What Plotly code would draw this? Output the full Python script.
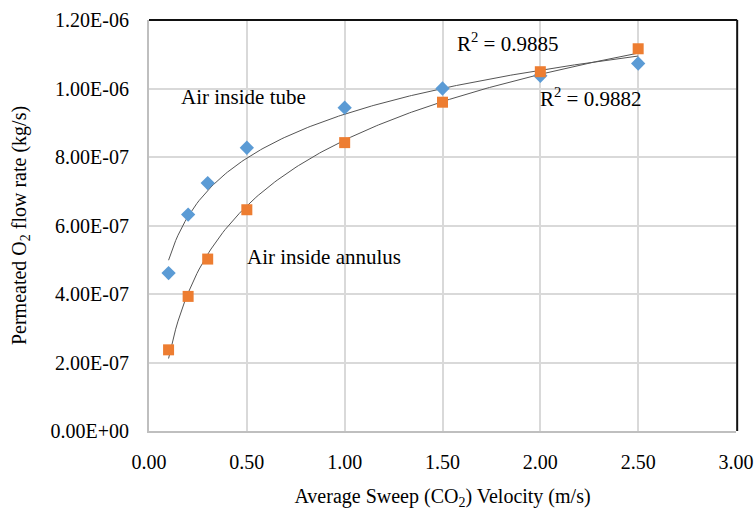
import numpy as np
import plotly.graph_objects as go

velocity = [0.1, 0.2, 0.3, 0.5, 1.0, 1.5, 2.0, 2.5]
tube_flow = [4.61e-7, 6.32e-7, 7.24e-7, 8.27e-7, 9.44e-7, 1.00e-6, 1.037e-6, 1.073e-6]
annulus_flow = [2.37e-7, 3.93e-7, 5.02e-7, 6.46e-7, 8.42e-7, 9.60e-7, 1.049e-6, 1.116e-6]
y_tick_vals = [0, 2e-7, 4e-7, 6e-7, 8e-7, 1.0e-6, 1.2e-6]
y_tick_text = ["0.00E+00", "2.00E-07", "4.00E-07", "6.00E-07", "8.00E-07", "1.00E-06", "1.20E-06"]
x_tick_vals = [0, 0.5, 1.0, 1.5, 2.0, 2.5, 3.0]

FONT = "Liberation Serif, Times New Roman, serif"

def log_fit(x, y):
    a, b = np.polyfit(np.log(x), y, 1)
    xs = np.linspace(min(x), max(x), 200)
    return xs, a * np.log(xs) + b

fig = go.Figure()
for ys in (tube_flow, annulus_flow):
    xs, yf = log_fit(np.array(velocity), np.array(ys))
    fig.add_trace(go.Scatter(x=xs, y=yf, mode="lines",
                             line=dict(color="#555555", width=1), hoverinfo="skip",
                             showlegend=False))

fig.add_trace(go.Scatter(x=velocity, y=tube_flow, mode="markers", name="Air inside tube",
                         marker=dict(symbol="diamond", size=11, color="#5B9BD5"),
                         showlegend=False))
fig.add_trace(go.Scatter(x=velocity, y=annulus_flow, mode="markers", name="Air inside annulus",
                         marker=dict(symbol="square", size=11, color="#ED7D31"),
                         showlegend=False))

ann = [
    ("Air inside tube", 0.152, 9.75e-7),
    ("Air inside annulus", 0.49, 5.08e-7),
    ("R<sup>2</sup> = 0.9885", 1.565, 1.135e-6),
    ("R<sup>2</sup> = 0.9882", 1.99, 9.75e-7),
]
for text, x, y in ann:
    fig.add_annotation(x=x, y=y, text=text, showarrow=False, xanchor="left",
                       yanchor="middle", font=dict(family=FONT, size=21, color="#000000"))

# top and right frame lines
fig.add_shape(type="line", xref="paper", yref="paper", x0=0, x1=1.002, y0=1, y1=1,
              line=dict(color="#111111", width=2))
fig.add_shape(type="line", xref="paper", yref="paper", x0=1.002, x1=1.002, y0=0, y1=1,
              line=dict(color="#111111", width=2))

fig.update_layout(
    width=756, height=513,
    margin=dict(l=149, r=20, t=20, b=82, autoexpand=False),
    paper_bgcolor="white", plot_bgcolor="white",
    font=dict(family=FONT, size=20, color="#000000"),
    xaxis=dict(range=[0, 3.0], tickvals=x_tick_vals, tickformat=".2f", automargin=False,
               showgrid=True, gridcolor="#D9D9D9", gridwidth=1.5,
               showline=True, linecolor="#BFBFBF", linewidth=2,
               zeroline=False, ticks="outside", ticklen=12, tickcolor="rgba(0,0,0,0)",
               title=dict(text="Average Sweep (CO<sub>2</sub>) Velocity (m/s)",
                          font=dict(family=FONT, size=20), standoff=17),
               tickfont=dict(family=FONT, size=20)),
    yaxis=dict(range=[0, 1.2e-6], tickvals=y_tick_vals, ticktext=y_tick_text, automargin=False,
               showgrid=True, gridcolor="#D9D9D9", gridwidth=1.5,
               showline=True, linecolor="#BFBFBF", linewidth=2,
               zeroline=False, ticks="outside", ticklen=14, tickcolor="rgba(0,0,0,0)",
               title=dict(text="Permeated O<sub>2</sub> flow rate (kg/s)",
                          font=dict(family=FONT, size=20), standoff=19),
               tickfont=dict(family=FONT, size=20)),
)

fig.write_html("out.html", config={"displayModeBar": False},
               post_script="document.body.style.margin='0px';")
